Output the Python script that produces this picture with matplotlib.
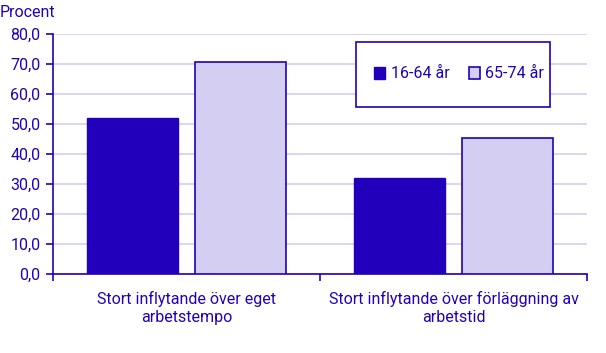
import matplotlib.pyplot as plt
from matplotlib.patches import Rectangle
import numpy as np

plt.rcParams['font.family'] = ['Roboto', 'DejaVu Sans']

categories = ['Stort inflytande över eget\narbetstempo',
              'Stort inflytande över förläggning av\narbetstid']
series_names = ['16-64 år', '65-74 år']
values_young = [52.0, 32.1]
values_old = [70.7, 45.2]

dark = '#2200BB'
light = '#D3CEF2'
fs = 11.5

fig = plt.figure(figsize=(6.06, 3.53), dpi=100)
ax = fig.add_axes([0.0875, 0.2238, 0.8811, 0.6799])

x = np.arange(len(categories))
w = 0.34
off = 0.202
ax.bar(x - off, values_young, w, color=dark, edgecolor=dark, linewidth=1,
       label=series_names[0], zorder=3)
ax.bar(x + off, values_old, w, color=light, edgecolor=dark, linewidth=1.2,
       label=series_names[1], zorder=3)

ax.set_xlim(-0.5, 1.5)
ax.set_ylim(0, 80)
ax.set_yticks(np.arange(0, 81, 10))
ax.set_yticklabels([f'{v:.1f}'.replace('.', ',') for v in np.arange(0, 81, 10)])
ax.yaxis.grid(True, color=light, linewidth=1.2, zorder=0)
ax.set_axisbelow(True)

ax.set_xticks([-0.5, 0.5, 1.5])
ax.set_xticklabels([])
ax.set_xticks(x, minor=True)
ax.set_xticklabels(categories, minor=True, linespacing=1.3)
ax.tick_params(axis='x', which='minor', length=0, pad=12, labelsize=fs,
               labelcolor=dark)
ax.tick_params(axis='x', which='major', length=5, width=1.2, color=dark)
ax.tick_params(axis='y', length=5, width=1.2, color=dark, labelsize=fs,
               labelcolor=dark, pad=4)

for s in ['top', 'right']:
    ax.spines[s].set_visible(False)
for s in ['left', 'bottom']:
    ax.spines[s].set_color(dark)
    ax.spines[s].set_linewidth(1.2)

fig.text(0.0, 0.965, 'Procent', color=dark, fontsize=fs, va='center', ha='left')

# legend frame drawn separately so padding can differ horizontally/vertically
ax.add_patch(Rectangle((356 / 606, 1 - 107 / 353), 194 / 606, 65 / 353,
                       transform=fig.transFigure, facecolor='white',
                       edgecolor=dark, linewidth=1.2, zorder=4, clip_on=False))
leg = ax.legend(loc='center left', bbox_to_anchor=(374 / 606, 1 - 74 / 353),
                bbox_transform=fig.transFigure, ncol=2, frameon=False,
                fontsize=fs, handlelength=0.7, handleheight=0.7,
                handletextpad=0.35, columnspacing=1.2, borderpad=0,
                borderaxespad=0)
leg.set_zorder(5)
for t in leg.get_texts():
    t.set_color(dark)

fig.savefig('out.png', dpi=100)
